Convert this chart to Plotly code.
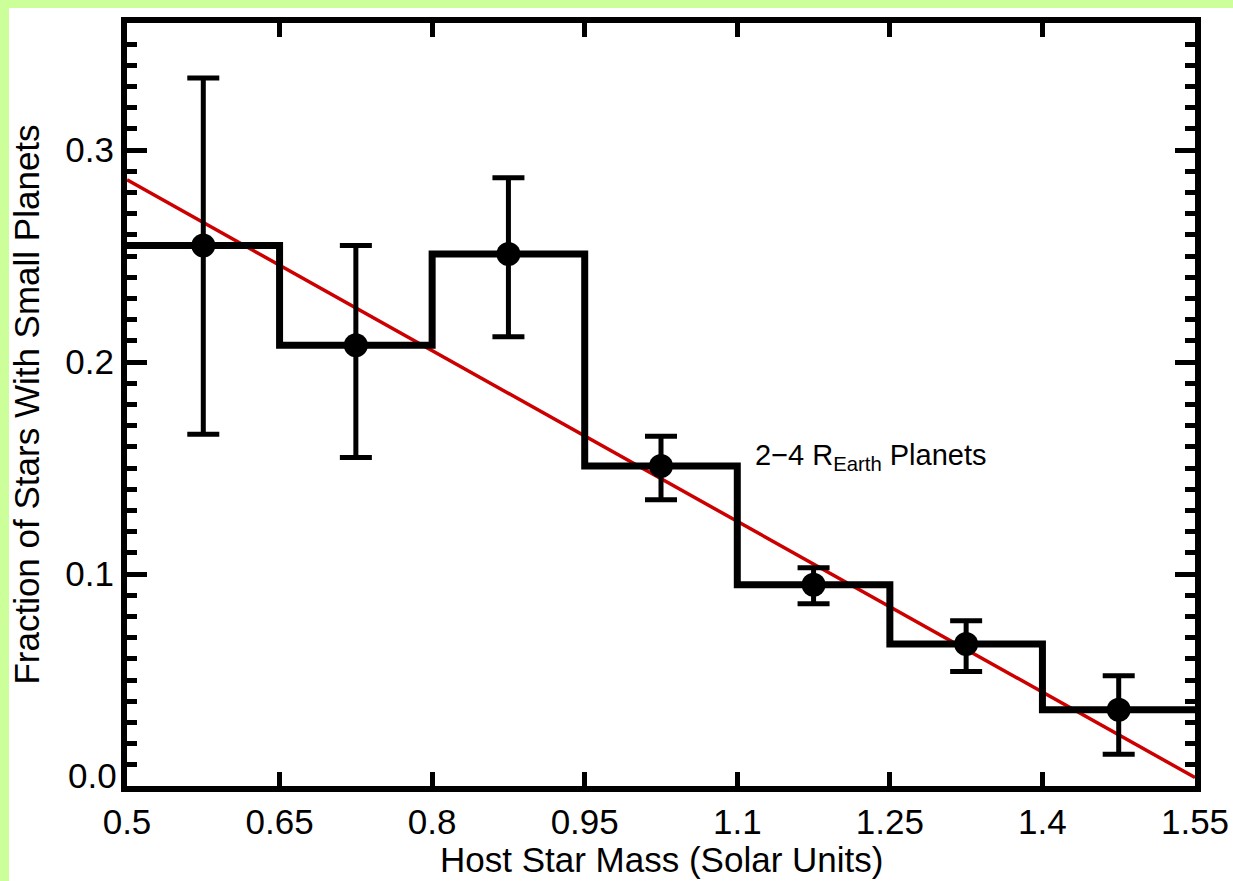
import plotly.graph_objects as go

# ---- data ----
bin_edges = [0.5, 0.65, 0.8, 0.95, 1.1, 1.25, 1.4, 1.55]
bin_centers = [0.575, 0.725, 0.875, 1.025, 1.175, 1.325, 1.475]
fraction = [0.255, 0.208, 0.251, 0.151, 0.095, 0.067, 0.036]
err_upper = [0.334, 0.255, 0.287, 0.165, 0.103, 0.078, 0.052]
err_lower = [0.166, 0.155, 0.212, 0.135, 0.086, 0.054, 0.015]
fit_x = [0.5, 1.55]
fit_y = [0.286, 0.004]
x_tick_vals = [0.5, 0.65, 0.8, 0.95, 1.1, 1.25, 1.4, 1.55]
x_tick_text = ["0.5", "0.65", "0.8", "0.95", "1.1", "1.25", "1.4", "1.55"]
y_tick_vals = [0.1, 0.2, 0.3]
y_tick_text = ["0.1", "0.2", "0.3"]
y_zero_label = "0.0"

FONT = "Liberation Sans, Arial, sans-serif"

step_y = fraction + [fraction[-1]]
plus = [u - f for u, f in zip(err_upper, fraction)]
minus = [f - l for f, l in zip(fraction, err_lower)]

fig = go.Figure()
fig.add_trace(go.Scatter(x=fit_x, y=fit_y, mode="lines",
                         line=dict(color="#cc0000", width=3.5), showlegend=False))
fig.add_trace(go.Scatter(x=bin_edges, y=step_y, mode="lines",
                         line=dict(color="black", width=7, shape="hv"), showlegend=False))
fig.add_trace(go.Scatter(x=bin_centers, y=fraction, mode="markers",
                         marker=dict(color="black", size=24),
                         error_y=dict(type="data", array=plus, arrayminus=minus,
                                      color="black", thickness=5, width=16),
                         showlegend=False))

fig.add_annotation(x=1.1155, y=0.155, xref="x", yref="y", xanchor="left", yanchor="middle",
                   text="2\u22124 R<sub>Earth</sub> Planets", showarrow=False,
                   font=dict(family=FONT, size=29, color="black"))
fig.add_annotation(x=0, y=0, xref="paper", yref="y", xanchor="right", yanchor="middle",
                   xshift=-8, yshift=11, text=y_zero_label, showarrow=False,
                   font=dict(family=FONT, size=35, color="black"))
fig.add_annotation(x=0.5, y=0, xref="paper", yref="paper", xanchor="center", yanchor="middle",
                   yshift=-73, text="Host Star Mass (Solar Units)", showarrow=False,
                   font=dict(family=FONT, size=35, color="black"))

# green frame bands (top and left)
fig.add_shape(type="rect", xref="paper", yref="paper", x0=-0.2, x1=1.1,
              y0=1.0197, y1=1.1, fillcolor="#ccff99", line_width=0, layer="below")
fig.add_shape(type="rect", xref="paper", yref="paper", x0=-0.2, x1=-0.1105,
              y0=-0.2, y1=1.1, fillcolor="#ccff99", line_width=0, layer="below")

fig.update_layout(
    width=1233, height=881,
    margin=dict(l=127, r=38, t=23, b=95, autoexpand=False),
    paper_bgcolor="white", plot_bgcolor="white",
    font=dict(family=FONT, size=35, color="black"),
    showlegend=False,
)
fig.update_xaxes(range=[0.5, 1.55], tickvals=x_tick_vals, ticktext=x_tick_text,
                 automargin=False, ticklabeloverflow="allow",
                 showline=True, linewidth=6, linecolor="black", mirror="allticks",
                 ticks="inside", ticklen=14, tickwidth=5, tickcolor="black",
                 showgrid=False, zeroline=False,
                 tickfont=dict(family=FONT, size=35, color="black"))
fig.update_yaxes(range=[0, 0.36], tickvals=y_tick_vals, ticktext=y_tick_text,
                 automargin=False,
                 showline=True, linewidth=6, linecolor="black", mirror="allticks",
                 ticks="inside", ticklen=20, tickwidth=5, tickcolor="black",
                 minor=dict(dtick=0.01, ticks="inside", ticklen=10, tickwidth=5,
                            tickcolor="black", showgrid=False),
                 showgrid=False, zeroline=False,
                 tickfont=dict(family=FONT, size=35, color="black"),
                 title=dict(text="Fraction of Stars With Small Planets", standoff=17,
                            font=dict(family=FONT, size=35, color="black")))

fig.write_html("out.html")
